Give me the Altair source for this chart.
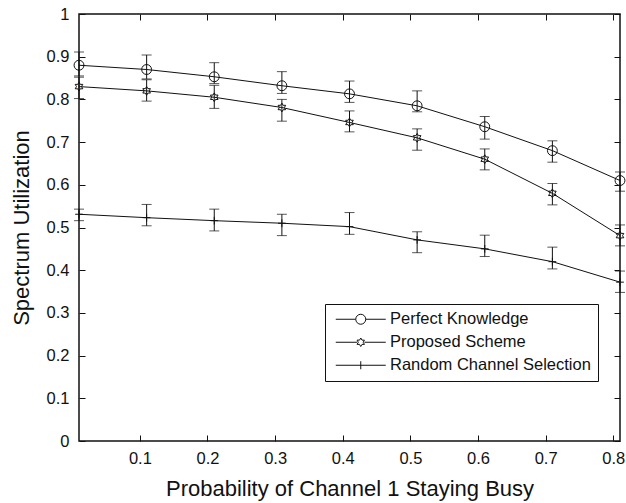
import altair as alt
import pandas as pd

# Probability of channel 1 staying busy
p = [0.01, 0.11, 0.21, 0.31, 0.41, 0.51, 0.61, 0.71, 0.81]

series_names = ["Perfect Knowledge", "Proposed Scheme", "Random Channel Selection"]

# mean spectrum utilization with lower / upper error limits
pk_mean = [0.880, 0.870, 0.853, 0.832, 0.813, 0.785, 0.736, 0.680, 0.610]
pk_lo = [0.855, 0.848, 0.837, 0.814, 0.793, 0.771, 0.707, 0.653, 0.585]
pk_hi = [0.911, 0.904, 0.886, 0.865, 0.843, 0.820, 0.760, 0.703, 0.630]

ps_mean = [0.830, 0.820, 0.805, 0.781, 0.746, 0.710, 0.660, 0.580, 0.481]
ps_lo = [0.802, 0.796, 0.779, 0.749, 0.724, 0.681, 0.635, 0.553, 0.457]
ps_hi = [0.852, 0.846, 0.833, 0.800, 0.773, 0.731, 0.684, 0.603, 0.506]

rc_mean = [0.531, 0.523, 0.516, 0.510, 0.502, 0.471, 0.450, 0.420, 0.372]
rc_lo = [0.516, 0.504, 0.492, 0.481, 0.484, 0.441, 0.432, 0.403, 0.348]
rc_hi = [0.543, 0.554, 0.543, 0.531, 0.535, 0.490, 0.482, 0.454, 0.398]

x_ticks = [0.1, 0.2, 0.3, 0.4, 0.5, 0.6, 0.7, 0.8]
y_ticks = [0, 0.1, 0.2, 0.3, 0.4, 0.5, 0.6, 0.7, 0.8, 0.9, 1.0]

rows = []
for name, m, lo, hi in [
    (series_names[0], pk_mean, pk_lo, pk_hi),
    (series_names[1], ps_mean, ps_lo, ps_hi),
    (series_names[2], rc_mean, rc_lo, rc_hi),
]:
    for xi, mi, li, hi_ in zip(p, m, lo, hi):
        rows.append({"p": xi, "series": name, "value": mi, "lo": li, "hi": hi_})
df = pd.DataFrame(rows)

FONT = "Liberation Sans"
INK = "#111111"

# marker outlines (unit symbol paths)
circle = "M0.9,0A0.9,0.9 0 1,1 -0.9,0A0.9,0.9 0 1,1 0.9,0Z"
hexagram = (
    "M0,-0.8L0.231,-0.4L0.693,-0.4L0.462,0L0.693,0.4L0.231,0.4"
    "L0,0.8L-0.231,0.4L-0.693,0.4L-0.462,0L-0.693,-0.4L-0.231,-0.4Z"
)
plus = "M-0.7,0H0.7M0,-0.7V0.7"

# legend keys: a line segment (10 units long) with the marker in its middle
key_circle = "M-5,0H-1M1,0H5M1,0A1,1 0 1,1 -1,0A1,1 0 1,1 1,0"
key_hexagram = (
    "M-5,0H-0.75M0.75,0H5"
    "M0,-0.85L0.245,-0.425L0.736,-0.425L0.491,0L0.736,0.425L0.245,0.425"
    "L0,0.85L-0.245,0.425L-0.736,0.425L-0.491,0L-0.736,-0.425L-0.245,-0.425Z"
)
key_plus = "M-5,0H5M0,-0.8V0.8"

x_scale = alt.Scale(domain=[0.01, 0.81], nice=False, zero=False)
y_scale = alt.Scale(domain=[0, 1], nice=False)

no_axis = None


def tick_axis(orient):
    return alt.Axis(
        orient=orient, offset=-6, tickSize=6, ticks=True, tickColor=INK,
        tickWidth=1, labels=False, domain=False, grid=False, title=None,
        values=x_ticks if orient in ("top", "bottom") else y_ticks,
    )


base = alt.Chart(df)

lines = base.mark_line(color=INK, strokeWidth=1).encode(
    x=alt.X("p:Q", scale=x_scale, axis=alt.Axis(
        orient="bottom", values=x_ticks, format=".1f", ticks=False, tickSize=0,
        domain=False, grid=False, labelFont=FONT, labelFontSize=16.5,
        labelColor=INK, labelPadding=9,
        title="Probability of Channel 1 Staying Busy", titleFont=FONT,
        titleFontSize=22, titleFontWeight="normal", titleColor=INK,
        titlePadding=12)),
    y=alt.Y("value:Q", scale=y_scale, axis=alt.Axis(
        orient="left", values=y_ticks, format=".1~f", ticks=False, tickSize=0,
        domain=False, grid=False, labelFont=FONT, labelFontSize=16.5,
        labelColor=INK, labelPadding=10,
        title="Spectrum Utilization", titleFont=FONT, titleFontSize=22,
        titleFontWeight="normal", titleColor=INK, titlePadding=13)),
    detail="series:N",
)

bars = base.mark_rule(color=INK, strokeWidth=1).encode(
    x=alt.X("p:Q", scale=x_scale, axis=tick_axis("bottom")),
    y=alt.Y("lo:Q", scale=y_scale, axis=tick_axis("left")),
    y2="hi:Q",
)

caps_lo = base.mark_tick(color=INK, orient="horizontal", size=10, thickness=1).encode(
    x=alt.X("p:Q", scale=x_scale, axis=tick_axis("top")),
    y=alt.Y("lo:Q", scale=y_scale, axis=tick_axis("right")),
)

caps_hi = base.mark_tick(color=INK, orient="horizontal", size=10, thickness=1).encode(
    x=alt.X("p:Q", scale=x_scale, axis=no_axis),
    y=alt.Y("hi:Q", scale=y_scale, axis=no_axis),
)

markers = base.mark_point(filled=False, color=INK, strokeWidth=1, size=121, opacity=1).encode(
    x=alt.X("p:Q", scale=x_scale, axis=no_axis),
    y=alt.Y("value:Q", scale=y_scale, axis=no_axis),
    shape=alt.Shape("series:N", scale=alt.Scale(domain=series_names,
                                                range=[circle, hexagram, plus]),
                    legend=None),
)

legend_keys = base.mark_point(filled=False, color=INK, strokeWidth=1, opacity=0).encode(
    x=alt.X("p:Q", scale=x_scale, axis=no_axis),
    y=alt.Y("value:Q", scale=y_scale, axis=no_axis),
    shape=alt.Shape("series:N", scale=alt.Scale(domain=series_names,
                                                range=[key_circle, key_hexagram, key_plus]),
                    legend=alt.Legend(
                        title=None, orient="none", legendX=246, legendY=290,
                        symbolSize=100, symbolStrokeWidth=1, symbolStrokeColor=INK,
                        symbolFillColor="transparent", symbolOpacity=1,
                        symbolOffset=20.5,
                        labelFont=FONT, labelFontSize=16.5, labelColor=INK,
                        labelOffset=21, rowPadding=6, padding=7,
                        strokeColor=INK, fillColor="white", cornerRadius=0,
                        labelLimit=400)),
)

chart = (
    alt.layer(lines, bars, caps_lo, caps_hi, markers, legend_keys)
    .resolve_scale(shape="independent")
    .resolve_axis(x="independent", y="independent")
    .properties(
        width=541, height=427,
        autosize=alt.AutoSizeParams(type="none"),
        padding={"left": 79, "top": 14, "right": 6, "bottom": 62},
        background="white",
    )
    .configure_view(stroke=INK, strokeWidth=1.5)
)

chart.save("out.html", embed_options={"renderer": "svg", "actions": False})
